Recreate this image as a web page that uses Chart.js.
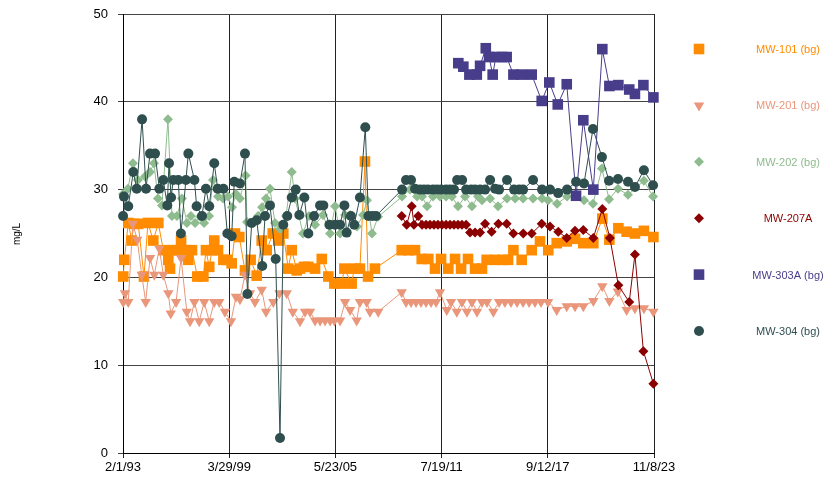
<!DOCTYPE html>
<html>
<head>
<meta charset="utf-8">
<script src="https://cdn.jsdelivr.net/npm/chart.js@4.4.1/dist/chart.umd.min.js"></script>
<style>
  html, body { margin: 0; padding: 0; background: #fff; }
</style>
</head>
<body>
<canvas id="chart" width="825" height="485"></canvas>
<script>
// sample dates as decimal years, values in mg/L
const mw101 = [
  [1993.10, 20.1], [1993.16, 22.0], [1993.39, 26.2], [1993.59, 24.2], [1993.72, 26.1], [1993.97, 26.1],
  [1994.30, 20.1], [1994.53, 26.2], [1994.84, 24.2], [1995.13, 26.2], [1995.42, 23.1], [1995.71, 22.0],
  [1995.81, 21.0], [1996.00, 23.1], [1996.21, 23.1], [1996.45, 24.2], [1996.68, 23.1], [1996.87, 22.0],
  [1997.08, 23.1], [1997.39, 20.1], [1997.74, 20.1], [1997.89, 23.1], [1998.08, 21.2], [1998.24, 23.1],
  [1998.37, 24.2], [1998.59, 23.1], [1998.90, 22.0], [1999.11, 22.0], [1999.38, 21.6], [1999.57, 25.0],
  [1999.82, 24.6], [2000.15, 20.8], [2000.48, 22.0], [2000.83, 20.2], [2001.12, 24.2], [2001.41, 23.1],
  [2001.76, 25.0], [2002.08, 24.2], [2002.37, 25.0], [2002.66, 21.0], [2002.86, 23.1], [2003.15, 20.8],
  [2003.34, 21.0], [2003.57, 21.2], [2003.82, 21.2], [2004.21, 21.0], [2004.60, 22.1], [2004.98, 20.1],
  [2005.33, 19.3], [2005.75, 19.3], [2005.91, 21.0], [2006.33, 19.3], [2006.48, 21.0], [2006.81, 21.0],
  [2007.10, 33.2], [2007.28, 20.1], [2007.68, 21.0],
  [2009.23, 23.1], [2009.61, 23.1], [2010.00, 23.1], [2010.39, 22.1], [2010.77, 22.1], [2011.16, 21.0],
  [2011.51, 22.1], [2011.93, 21.0], [2012.32, 22.1], [2012.67, 21.0], [2013.07, 22.1], [2013.48, 21.0],
  [2013.88, 21.0], [2014.15, 22.0], [2014.64, 22.0], [2015.10, 22.0], [2015.39, 22.0], [2015.70, 23.1],
  [2016.18, 22.0], [2016.76, 23.1], [2017.24, 24.1], [2017.72, 23.1], [2018.21, 23.9], [2018.79, 24.1],
  [2019.27, 24.4], [2019.75, 23.9], [2020.33, 23.9], [2020.85, 26.7], [2021.26, 24.3], [2021.78, 25.6],
  [2022.26, 25.2], [2022.74, 25.0], [2023.26, 25.3], [2023.81, 24.6]
];

const mw201 = [
  [1993.10, 17.2], [1993.20, 18.2], [1993.39, 17.2], [1993.65, 26.1], [1993.91, 24.3], [1994.17, 20.3],
  [1994.40, 17.2], [1994.65, 22.2], [1994.90, 20.3], [1995.19, 23.3], [1995.42, 20.3], [1995.71, 18.2],
  [1995.85, 15.9], [1996.16, 17.2], [1996.45, 22.2], [1996.78, 16.1], [1996.97, 15.0], [1997.22, 17.2],
  [1997.50, 15.0], [1997.79, 17.2], [1998.08, 15.0], [1998.37, 17.2], [1998.66, 17.2], [1998.99, 16.1],
  [1999.34, 15.0], [1999.63, 17.8], [1999.86, 17.5], [2000.15, 20.3], [2000.44, 18.2], [2000.73, 17.2],
  [2001.12, 18.6], [2001.37, 16.1], [2001.79, 17.2], [2002.14, 18.2], [2002.57, 18.2], [2002.92, 16.1],
  [2003.34, 15.0], [2003.63, 16.1], [2003.92, 16.1], [2004.21, 15.1], [2004.50, 15.1], [2004.79, 15.1],
  [2005.08, 15.1], [2005.33, 15.1], [2005.66, 15.1], [2005.95, 17.2], [2006.24, 16.3], [2006.62, 15.1],
  [2006.81, 17.2], [2007.20, 17.2], [2007.39, 16.1], [2007.87, 16.1],
  [2009.23, 18.3], [2009.48, 17.2], [2009.77, 17.2], [2010.06, 17.2], [2010.35, 17.2], [2010.64, 17.2],
  [2010.93, 17.2], [2011.22, 17.2], [2011.45, 18.3], [2011.84, 16.3], [2012.09, 17.2], [2012.42, 16.1],
  [2012.72, 17.2], [2013.01, 16.1], [2013.30, 17.2], [2013.59, 16.1], [2013.88, 17.2], [2014.17, 17.2],
  [2014.54, 16.1], [2014.87, 17.2], [2015.21, 17.2], [2015.56, 17.2], [2015.91, 17.2], [2016.26, 17.2],
  [2016.61, 17.2], [2016.95, 17.2], [2017.30, 17.2], [2017.71, 17.2], [2018.21, 16.3], [2018.79, 16.7],
  [2019.27, 16.7], [2019.75, 16.7], [2020.33, 17.3], [2020.85, 19.0], [2021.26, 17.3], [2021.75, 18.4],
  [2022.26, 16.3], [2022.74, 16.5], [2023.26, 16.5], [2023.81, 16.1]
];

const mw202 = [
  [1993.09, 29.5], [1993.37, 30.1], [1993.66, 33.0], [1993.95, 31.1], [1994.36, 31.5], [1994.65, 32.0],
  [1994.88, 33.0], [1995.11, 29.0], [1995.34, 28.2], [1995.69, 38.0], [1995.92, 27.0], [1996.21, 27.0],
  [1996.50, 29.0], [1996.79, 26.2], [1997.02, 27.0], [1997.26, 26.2], [1997.55, 26.9], [1997.78, 26.2],
  [1998.07, 27.0], [1998.30, 31.1], [1998.59, 29.2], [1998.88, 29.0], [1999.17, 29.2], [1999.40, 28.0],
  [1999.63, 29.5], [1999.86, 29.0], [2000.19, 31.6], [2000.27, 26.3], [2000.62, 26.2], [2000.91, 27.0],
  [2001.14, 28.0], [2001.37, 29.0], [2001.60, 30.1], [2001.89, 26.2], [2002.18, 25.5], [2002.53, 27.0],
  [2002.86, 32.0], [2003.05, 29.0], [2003.51, 25.0], [2003.86, 27.0], [2004.21, 26.0], [2004.67, 27.1],
  [2005.08, 25.0], [2005.37, 28.1], [2005.66, 25.0], [2005.95, 27.1], [2006.24, 27.1], [2006.64, 25.8],
  [2006.99, 27.1], [2007.22, 28.8], [2007.51, 25.0], [2007.86, 26.9],
  [2009.25, 29.2], [2009.71, 30.0], [2010.12, 29.2], [2010.41, 29.2], [2010.70, 28.1], [2011.04, 29.2],
  [2011.45, 29.2], [2011.80, 29.2], [2012.14, 29.2], [2012.49, 28.1], [2012.90, 29.2], [2013.30, 28.1],
  [2013.65, 29.2], [2013.88, 28.8], [2014.35, 29.0], [2014.81, 28.1], [2015.33, 29.0], [2015.80, 29.0],
  [2016.26, 29.0], [2016.84, 29.0], [2017.36, 29.0], [2017.71, 28.8], [2018.23, 28.4], [2018.81, 29.2],
  [2019.33, 29.5], [2019.79, 28.8], [2020.31, 28.4], [2020.83, 32.4], [2021.24, 28.9], [2021.76, 30.1],
  [2022.34, 29.4], [2023.26, 31.0], [2023.79, 29.2]
];

const mw207a = [
  [2009.23, 27.0], [2009.52, 26.0], [2009.81, 28.1], [2009.94, 26.0], [2010.19, 27.0], [2010.41, 26.0],
  [2010.64, 26.0], [2010.87, 26.0], [2011.10, 26.0], [2011.33, 26.0], [2011.56, 26.0], [2011.80, 26.0],
  [2012.03, 26.0], [2012.26, 26.0], [2012.49, 26.0], [2012.72, 26.0], [2012.96, 26.0], [2013.19, 25.1],
  [2013.48, 25.1], [2013.77, 25.1], [2014.06, 26.1], [2014.44, 25.2], [2014.83, 26.1], [2015.31, 26.1],
  [2015.70, 25.0], [2016.27, 25.0], [2016.76, 25.0], [2017.34, 26.1], [2017.82, 25.8], [2018.30, 25.2],
  [2018.79, 24.5], [2019.27, 25.3], [2019.75, 25.4], [2020.33, 24.5], [2020.85, 27.8], [2021.29, 24.5],
  [2021.78, 19.1], [2022.41, 17.2], [2022.74, 22.6], [2023.23, 11.6], [2023.81, 7.9]
];

const mw303a = [
  [2012.51, 44.4], [2012.80, 44.0], [2013.15, 43.1], [2013.58, 43.1], [2013.77, 44.1], [2014.10, 46.1],
  [2014.29, 45.1], [2014.50, 43.1], [2014.69, 45.1], [2015.04, 45.1], [2015.31, 45.1], [2015.70, 43.1],
  [2016.18, 43.1], [2016.76, 43.1], [2017.34, 40.1], [2017.78, 42.2], [2018.27, 39.7], [2018.79, 42.0],
  [2019.33, 29.3], [2019.75, 37.9], [2020.33, 30.0], [2020.85, 46.0], [2021.26, 41.8], [2021.78, 41.9],
  [2022.41, 41.4], [2022.74, 40.9], [2023.23, 41.9], [2023.81, 40.5]
];

const mw304 = [
  [1993.09, 27.0], [1993.14, 29.2], [1993.39, 28.1], [1993.68, 32.0], [1993.88, 30.1], [1994.19, 38.0],
  [1994.42, 30.1], [1994.65, 34.1], [1994.94, 34.1], [1995.19, 30.1], [1995.42, 31.1], [1995.65, 28.2],
  [1995.75, 33.0], [1995.87, 29.1], [1996.00, 31.1], [1996.29, 31.1], [1996.44, 25.0], [1996.73, 31.1],
  [1996.87, 34.1], [1997.22, 31.1], [1997.35, 28.1], [1997.66, 27.0], [1997.89, 30.1], [1998.08, 28.1],
  [1998.37, 33.0], [1998.57, 30.1], [1998.90, 30.1], [1999.13, 25.0], [1999.38, 24.7], [1999.53, 30.9],
  [1999.86, 30.7], [2000.15, 34.1], [2000.29, 18.1], [2000.54, 26.2], [2000.83, 26.5], [2001.15, 21.3],
  [2001.31, 27.0], [2001.60, 28.2], [2001.93, 22.1], [2002.18, 1.7], [2002.37, 26.0], [2002.60, 27.0],
  [2002.86, 29.1], [2003.09, 30.0], [2003.30, 27.1], [2003.59, 29.1], [2003.82, 25.0], [2004.15, 27.0],
  [2004.50, 28.2], [2004.69, 28.2], [2005.04, 26.0], [2005.37, 26.0], [2005.66, 26.0], [2005.91, 28.2],
  [2006.04, 25.1], [2006.29, 27.0], [2006.48, 26.0], [2006.81, 29.1], [2007.12, 37.1], [2007.30, 27.0],
  [2007.53, 27.0], [2007.74, 27.0],
  [2009.25, 30.0], [2009.48, 31.1], [2009.77, 31.1], [2010.00, 30.1], [2010.29, 30.0], [2010.52, 30.0],
  [2010.75, 30.0], [2011.04, 30.0], [2011.27, 30.0], [2011.51, 30.0], [2011.80, 30.0], [2012.03, 30.0],
  [2012.26, 30.0], [2012.44, 31.1], [2012.73, 31.1], [2012.96, 30.0], [2013.25, 30.0], [2013.48, 30.0],
  [2013.77, 30.0], [2014.06, 30.0], [2014.35, 31.1], [2014.64, 30.1], [2014.87, 30.0], [2015.33, 31.1],
  [2015.74, 30.0], [2016.03, 30.0], [2016.26, 30.0], [2016.84, 31.1], [2017.36, 30.0], [2017.82, 30.0],
  [2018.29, 29.6], [2018.81, 30.0], [2019.33, 30.9], [2019.79, 30.7], [2020.31, 36.9], [2020.83, 33.7],
  [2021.24, 31.0], [2021.76, 31.2], [2022.34, 30.9], [2022.74, 30.3], [2023.26, 32.2], [2023.79, 30.5]
];

const wellNames = ['MW-101 (bg)', 'MW-201 (bg)', 'MW-202 (bg)', 'MW-207A', 'MW-303A (bg)', 'MW-304 (bg)'];
const xTickLabels = ['2/1/93', '3/29/99', '5/23/05', '7/19/11', '9/12/17', '11/8/23'];
const yTicks = [0, 10, 20, 30, 40, 50];

// x axis runs in days after 2/1/93, Excel style major unit
const START_YEAR = 1993.085;
const DAY_STEP = 2247;
const toDays = y => (y - START_YEAR) * 365.25;

const styles = [
  { color: '#FF8C00', point: 'rect', radius: 7.5, rotation: 0 },
  { color: '#E9967A', point: 'triangle', radius: 6, rotation: 180 },
  { color: '#8FBC8F', point: 'rectRot', radius: 5, rotation: 0 },
  { color: '#8B0000', point: 'rectRot', radius: 5, rotation: 0 },
  { color: '#483D8B', point: 'rect', radius: 7.5, rotation: 0 },
  { color: '#2F4F4F', point: 'circle', radius: 5, rotation: 0 },
];

const series = [mw101, mw201, mw202, mw207a, mw303a, mw304];

const datasets = series.map((rows, i) => ({
  label: wellNames[i],
  data: rows.map(r => ({ x: toDays(r[0]), y: r[1] })),
  borderColor: styles[i].color,
  backgroundColor: styles[i].color,
  borderWidth: 1,
  pointStyle: styles[i].point,
  pointRadius: styles[i].radius,
  pointRotation: styles[i].rotation,
  pointBorderWidth: 0,
  pointBackgroundColor: styles[i].color,
  clip: 10,
  order: series.length - i,
}));

const sideLegend = {
  id: 'sideLegend',
  afterDraw(chart) {
    const ctx = chart.ctx;
    ctx.save();
    datasets.forEach((ds, i) => {
      const y = 49 + i * 56.4;
      ctx.fillStyle = styles[i].color;
      ctx.strokeStyle = styles[i].color;
      Chart.helpers.drawPoint(ctx, {
        pointStyle: styles[i].point,
        radius: styles[i].radius,
        rotation: styles[i].rotation,
        borderWidth: 0,
      }, 699, y);
      ctx.font = '11px "Liberation Sans", Arial, sans-serif';
      ctx.textAlign = 'center';
      ctx.textBaseline = 'middle';
      ctx.fillText(ds.label, 788, y + 1);
    });
    // y axis title
    ctx.translate(17, 234);
    ctx.rotate(-Math.PI / 2);
    ctx.fillStyle = '#000';
    ctx.font = '10px "Liberation Sans", Arial, sans-serif';
    ctx.textAlign = 'center';
    ctx.textBaseline = 'middle';
    ctx.fillText('mg/L', 0, 0);
    ctx.restore();
  }
};

new Chart(document.getElementById('chart'), {
  type: 'line',
  data: { datasets },
  options: {
    responsive: false,
    animation: false,
    devicePixelRatio: 1,
    layout: { autoPadding: false, padding: { top: 14, right: 171, bottom: 0, left: 0 } },
    plugins: { legend: { display: false }, tooltip: { enabled: false } },
    scales: {
      x: {
        type: 'linear',
        min: 0,
        max: DAY_STEP * 5,
        afterFit: s => { s.height = 32; },
        afterBuildTicks: s => { s.ticks = xTickLabels.map((_, i) => ({ value: i * DAY_STEP })); },
        ticks: {
          color: '#000',
          font: { family: '"Liberation Sans", Arial, sans-serif', size: 13 },
          maxRotation: 0,
          padding: 2,
          callback: (v, i) => xTickLabels[i],
        },
        grid: { color: '#222', lineWidth: 1, tickLength: 5 },
        border: { color: '#000', width: 1 },
      },
      y: {
        min: 0,
        max: 50,
        // fixed axis box, and no extra room reserved above the top label
        afterFit: s => { s.width = 123; s.paddingTop = 0; s.paddingBottom = 0; },
        afterBuildTicks: s => { s.ticks = yTicks.map(v => ({ value: v })); },
        ticks: {
          color: '#000',
          font: { family: '"Liberation Sans", Arial, sans-serif', size: 13 },
          padding: 10,
        },
        grid: { color: '#444', lineWidth: 1, tickLength: 5 },
        border: { color: '#000', width: 1 },
      }
    }
  },
  plugins: [sideLegend]
});
</script>
</body>
</html>
